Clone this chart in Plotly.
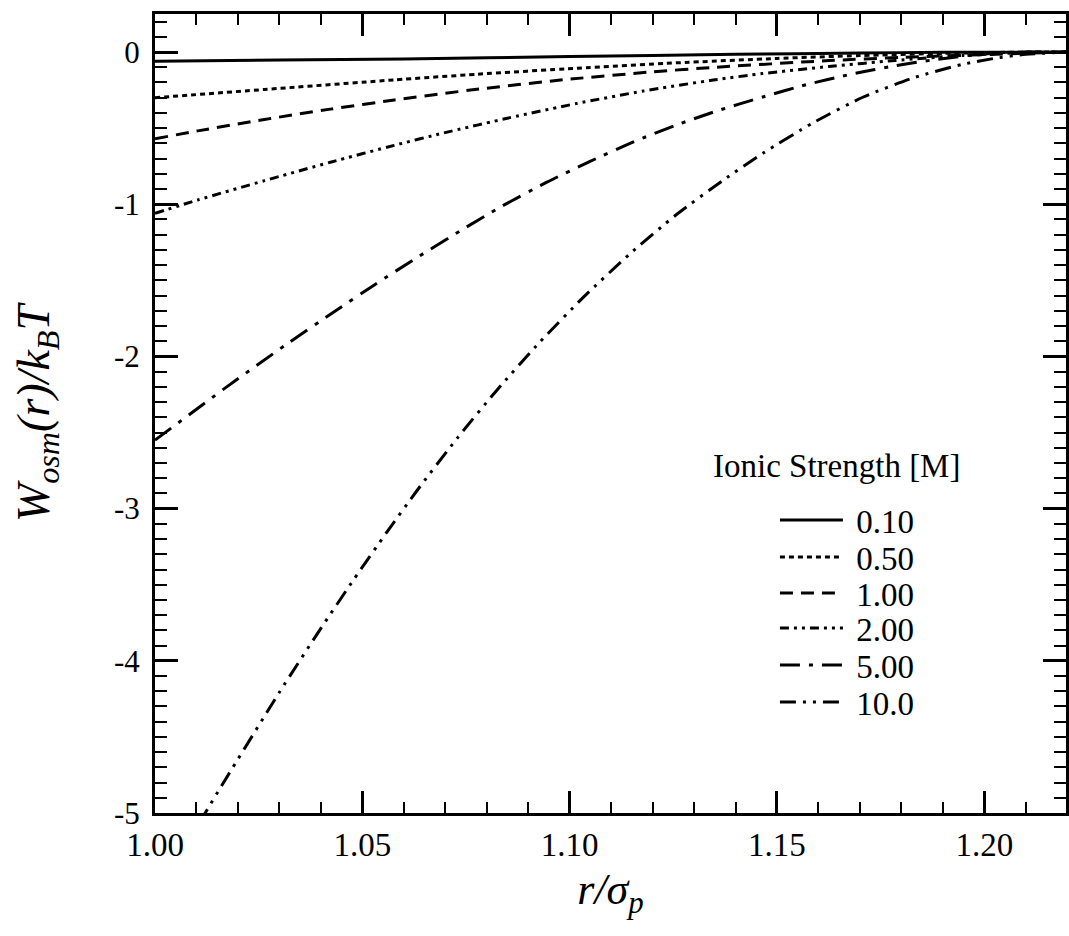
import plotly.graph_objects as go

# ---- data ----
labels = ["0.10", "0.50", "1.00", "2.00", "5.00", "10.0"]

x_010 = [1.00, 1.03, 1.06, 1.10, 1.14, 1.17, 1.19, 1.22]
y_010 = [-0.06, -0.052, -0.045, -0.03, -0.015, -0.006, -0.002, 0.0]

x_050 = [1.00, 1.0264, 1.0577, 1.0776, 1.1017, 1.1257, 1.15, 1.17, 1.19, 1.21, 1.22]
y_050 = [-0.30, -0.246, -0.183, -0.146, -0.106, -0.071, -0.042, -0.023, -0.009, 0.0, 0.0]

x_100 = [1.00, 1.0103, 1.0264, 1.0423, 1.0577, 1.0776, 1.0993, 1.12, 1.1346, 1.1625, 1.18, 1.20, 1.21, 1.22]
y_100 = [-0.57, -0.518, -0.443, -0.375, -0.315, -0.245, -0.180, -0.130, -0.101, -0.056, -0.035, -0.017, -0.008, 0.0]

x_200 = [1.00, 1.0103, 1.0264, 1.0423, 1.0577, 1.0697, 1.0856, 1.1017, 1.1178, 1.1346, 1.1466, 1.1625, 1.1786, 1.195, 1.21, 1.22]
y_200 = [-1.06, -0.972, -0.845, -0.724, -0.613, -0.531, -0.431, -0.338, -0.256, -0.184, -0.141, -0.095, -0.055, -0.022, -0.004, 0.0]

x_500 = [1.00, 1.0168, 1.032, 1.0433, 1.0529, 1.0632, 1.0736, 1.0832, 1.0945, 1.1048, 1.1154, 1.1257, 1.1346, 1.1466, 1.157, 1.168, 1.1786, 1.188, 1.20, 1.21, 1.22]
y_500 = [-2.55, -2.21, -1.915, -1.705, -1.53, -1.35, -1.175, -1.02, -0.855, -0.72, -0.59, -0.48, -0.395, -0.295, -0.215, -0.145, -0.09, -0.05, -0.012, 0.0, 0.0]

x_1000 = [1.00, 1.0115, 1.0168, 1.030, 1.040, 1.048, 1.056, 1.0632, 1.0728, 1.0825, 1.0928, 1.1034, 1.1144, 1.1257, 1.137, 1.1466, 1.1587, 1.1707, 1.1827, 1.1947, 1.2026, 1.21, 1.22]
y_1000 = [-5.55, -5.027, -4.788, -4.207, -3.787, -3.463, -3.151, -2.881, -2.540, -2.220, -1.906, -1.609, -1.329, -1.069, -0.843, -0.665, -0.465, -0.297, -0.171, -0.081, -0.041, -0.015, 0.0]

x_tickvals = [1.00, 1.05, 1.10, 1.15, 1.20]
x_ticktext = ["1.00", "1.05", "1.10", "1.15", "1.20"]
y_tickvals = [0, -1, -2, -3, -4, -5]
y_ticktext = ["0", "-1", "-2", "-3", "-4", "-5"]

series_x = [x_010, x_050, x_100, x_200, x_500, x_1000]
series_y = [y_010, y_050, y_100, y_200, y_500, y_1000]
dashes = ["solid", "5px,4px", "13px,8px", "9px,5px,3px,5px,3px,5px", "20px,9px,4px,9px", "16px,7px,3px,7px,3px,7px"]

FONT = "Liberation Serif"
legend_rows_y = [0.3667, 0.3204, 0.2753, 0.2315, 0.1852, 0.1389]

fig = go.Figure()
legend_layout = {}
for i, (xs, ys, lab, d) in enumerate(zip(series_x, series_y, labels, dashes)):
    key = "legend" if i == 0 else "legend%d" % (i + 1)
    fig.add_trace(go.Scatter(
        x=xs, y=ys, mode="lines", name="\u00a0" + lab, legend=key,
        line=dict(color="black", width=3, dash=d, shape="spline", smoothing=0.6),
    ))
    legend_layout[key] = dict(x=0.6805, y=legend_rows_y[i], xanchor="left", yanchor="middle",
                              font=dict(family=FONT, size=33, color="black"),
                              bgcolor="rgba(0,0,0,0)", itemwidth=63)

fig.add_annotation(text="Ionic Strength [M]", xref="paper", yref="paper",
                   x=0.6105, y=0.434, xanchor="left", yanchor="middle", showarrow=False,
                   font=dict(family=FONT, size=33, color="black"))

fig.update_layout(
    width=1069, height=936,
    margin=dict(l=155, r=0, t=14, b=123),
    paper_bgcolor="white", plot_bgcolor="white",
    font=dict(family=FONT, color="black"),
    showlegend=True,
    xaxis=dict(
        range=[1.0, 1.2197], showgrid=False, zeroline=False,
        showline=True, linewidth=3, linecolor="black", mirror="ticks",
        ticks="inside", ticklen=22, tickwidth=2.5, tickcolor="black",
        tickvals=x_tickvals, ticktext=x_ticktext,
        tickfont=dict(family=FONT, size=33, color="black"),
        minor=dict(dtick=0.01, tick0=1.0, ticks="inside", ticklen=11, tickwidth=2, tickcolor="black", showgrid=False),
        title=dict(text="r/σ<sub>p</sub>",
                   font=dict(family=FONT, size=44, color="black", style="italic"), standoff=12),
    ),
    yaxis=dict(
        range=[-5, 0.25], showgrid=False, zeroline=False,
        showline=True, linewidth=3, linecolor="black", mirror="ticks",
        ticks="inside", ticklen=23, tickwidth=2.5, tickcolor="black",
        tickvals=y_tickvals, ticktext=y_ticktext, ticklabelstandoff=6,
        tickfont=dict(family=FONT, size=31, color="black"),
        minor=dict(dtick=0.1, tick0=0, ticks="inside", ticklen=12, tickwidth=2, tickcolor="black", showgrid=False),
        title=dict(text="W<sub>osm</sub>(r)/k<sub>B</sub>T",
                   font=dict(family=FONT, size=46, color="black", style="italic"), standoff=50),
    ),
    **legend_layout,
)

fig.write_html("out.html")
